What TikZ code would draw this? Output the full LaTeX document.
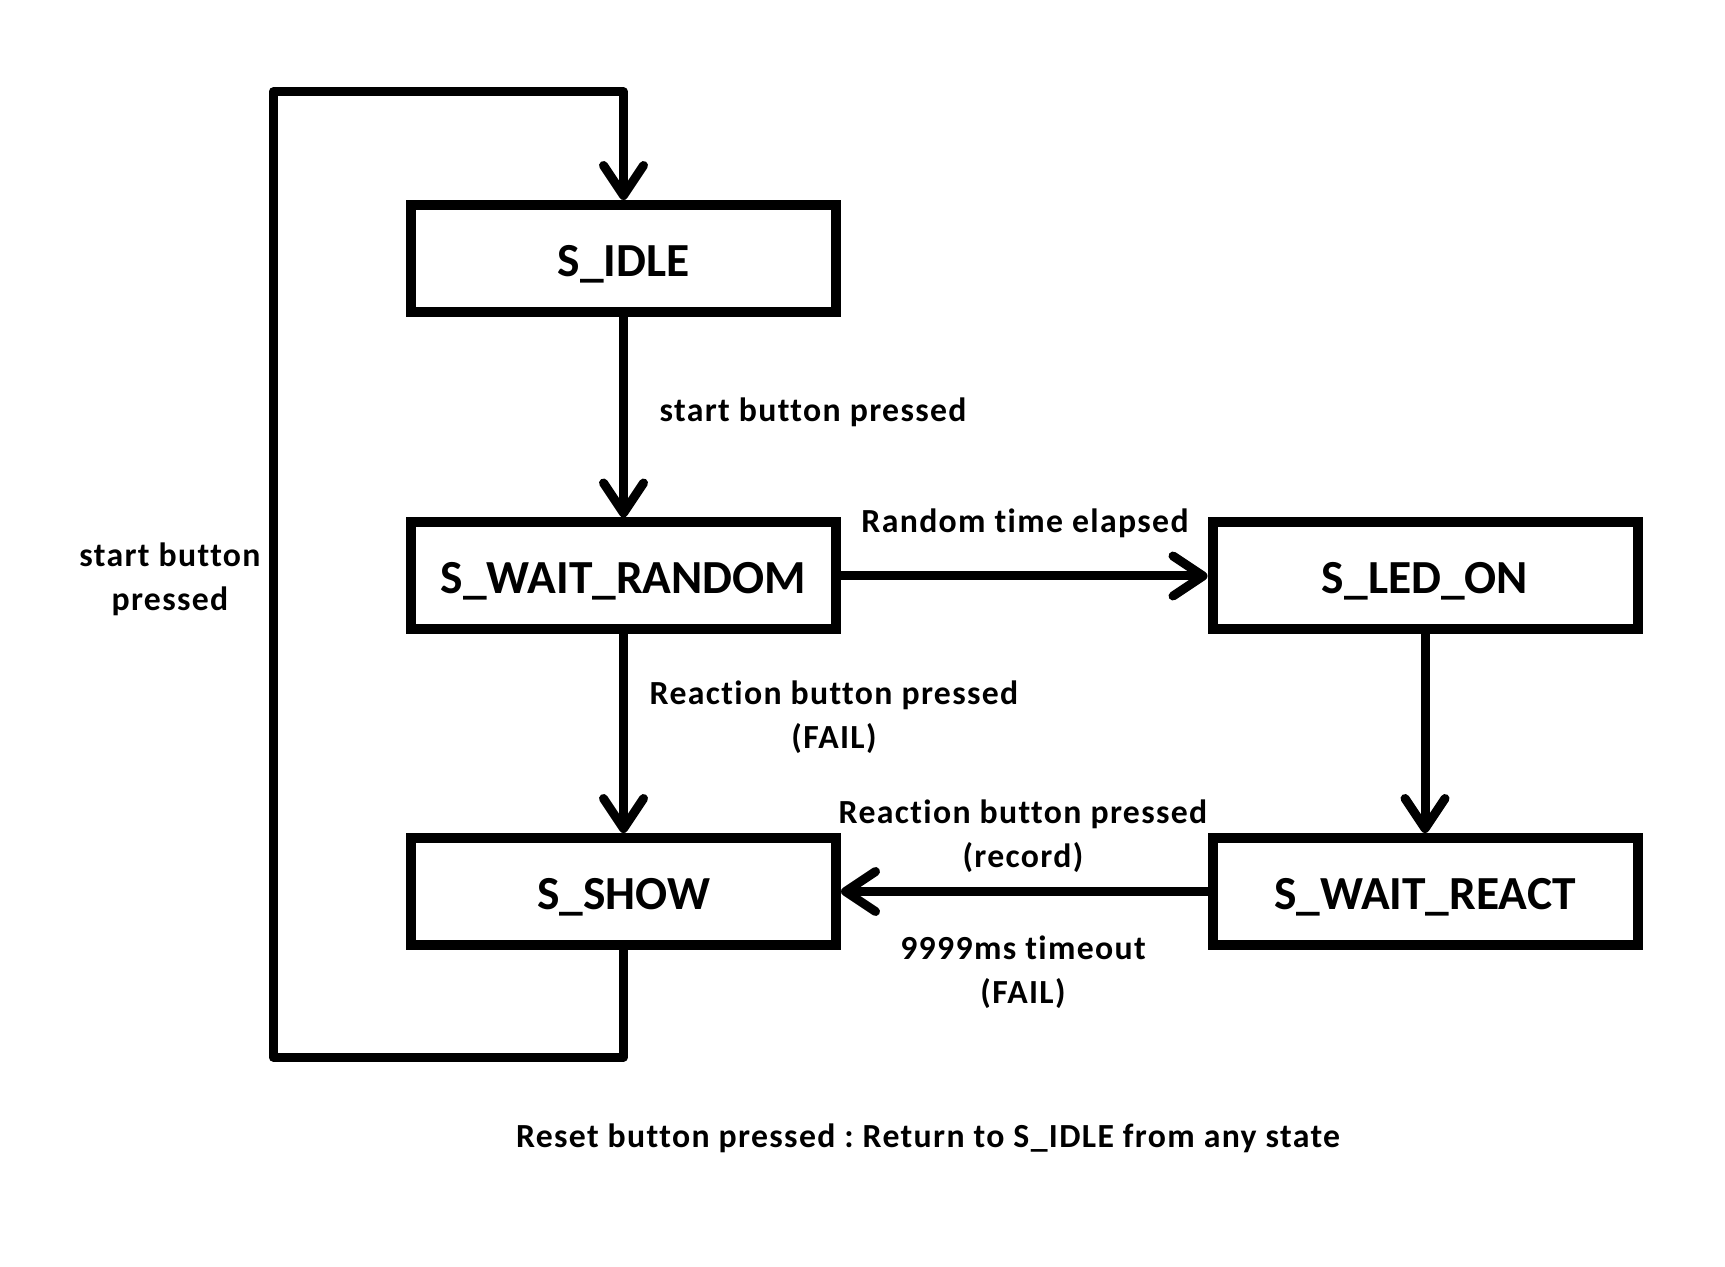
\documentclass[tikz,border=0pt]{standalone}
\usepackage{fontspec}
\setmainfont{Carlito}[Ligatures=NoCommon]
\newfontfamily\lblfont{Carlito}[Ligatures=NoCommon,LetterSpace=4]
\usetikzlibrary{arrows.meta}
\frenchspacing

\begin{document}
\begin{tikzpicture}[x=0.1mm,y=-0.1mm]
                \tikzstyle{state}=[draw, line width=1mm, minimum width=42.5mm, minimum height=10.7mm, text height=3.6mm, text depth=0pt, font=\fontsize{13.5}{16}\selectfont\bfseries]
                \tikzstyle{edge}=[line width=0.9mm, line join=round, -{Straight Barb[length=3mm,width=4mm,round]}]
                \tikzstyle{lbl}=[inner sep=0pt, align=center, font=\fontsize{9.6}{12.5}\lblfont\bfseries]
                \useasboundingbox (0,0) rectangle (1725,1267);
                \node [state] (idle) at (623.5,258.5) {S\_IDLE};
                \node [state] (wrand) at (623.5,576) {S\_WAIT\_RANDOM};
                \node [state] (ledon) at (1425,576) {S\_LED\_ON};
                \node [state] (show) at (623.5,891.5) {S\_SHOW};
                \node [state] (wreact) at (1425,891.5) {S\_WAIT\_REACT};
                \coordinate (lb) at (273,1057);
                \coordinate (lt) at (273,92);
                \draw [edge] (idle) -- (wrand);
                \draw [edge] (wrand) -- (ledon);
                \draw [edge] (wrand) -- (show);
                \draw [edge] (ledon) -- (wreact);
                \draw [edge] (wreact) -- (show);
                \draw [edge] (show.south) |- (lb) -- (lt) -| (idle.north);
                \node [lbl, anchor=west] (go) at (659,412) {start button pressed};
                \node [lbl] (elapsed) at (1025,523) {Random time elapsed};
                \node [lbl] (early) at (834,717) {Reaction button pressed\\(FAIL)};
                \node [lbl] (record) at (1023,836) {Reaction button pressed\\(record)};
                \node [lbl] (timeout) at (1023,972) {9999ms timeout\\(FAIL)};
                \node [lbl] (again) at (170,579) {start button\\pressed};
                \node [lbl] (reset) at (928,1138) {Reset button pressed : Return to S\_IDLE from any state};
\end{tikzpicture}
\end{document}
